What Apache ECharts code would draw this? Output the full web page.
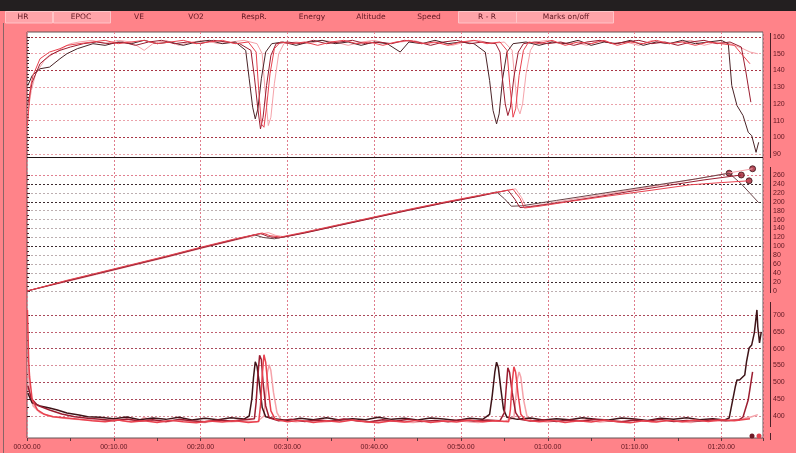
<!DOCTYPE html>
<html>
<head>
<meta charset="utf-8">
<title>HR / EPOC / R-R</title>
<script src="https://cdn.jsdelivr.net/npm/echarts/dist/echarts.min.js"></script>
<style>
  html, body { margin: 0; padding: 0; background: #ff8389; }
  #main { width: 796px; height: 453px; }
</style>
</head>
<body>
<div id="main"></div>
<script>
// tab captions and time labels
const tabNames = ['HR', 'EPOC', 'VE', 'VO2', 'RespR.', 'Energy', 'Altitude', 'Speed', 'R - R', 'Marks on/off'];
const timeLabels = ['00:00.00', '00:10.00', '00:20.00', '00:30.00', '00:40.00', '00:50.00', '01:00.00', '01:10.00', '01:20.00'];

// heart rate, [minute, bpm], four sessions
const hr1 = [[0.1,131],[0.6,137],[1.5,141],[2.6,142],[3.8,147],[4.6,150],[5.8,153],[7.6,156],[9,155],[10.5,157],[12,156],[13.5,158],[15,156],[16.5,157],[18,155],[19.5,157],[21,158],[22.5,156],[24,157],[25.2,152],[25.6,135],[26,118],[26.3,111],[26.6,117],[27,135],[27.5,151],[28.2,156],[29.5,157],[31,155],[32.5,157],[34,158],[35.5,156],[37,157],[38.5,155],[40,157],[41.5,156],[43,151],[44,157],[45.5,156],[47,158],[48.5,156],[50,157],[51.5,156],[52.8,151],[53.3,134],[53.7,116],[54.1,108],[54.4,114],[54.8,135],[55.3,151],[56,156],[57.5,157],[59,155],[60.5,157],[62,156],[63.5,158],[65,155],[66.5,157],[68,156],[69.5,158],[71,155],[72.5,157],[74,156],[75.5,158],[77,156],[78.5,157],[80,158],[80.8,156],[81.2,131],[81.8,119],[82.5,113],[83.1,103],[83.5,101],[84,91],[84.3,97]];
const hr2 = [[0.1,120],[0.6,133],[1.5,144],[2.6,149],[3.8,152],[5,154],[6.5,156],[8,157],[9.5,156],[11,157],[12.5,155],[14,157],[15.5,158],[17,156],[18.5,157],[20,156],[21.5,158],[23,157],[24.5,156],[25.8,152],[26.2,136],[26.6,117],[26.9,105],[27.2,112],[27.6,131],[28.1,149],[28.7,156],[30,157],[31.5,156],[33,158],[34.5,156],[36,157],[37.5,158],[39,156],[40.5,157],[42,156],[43.5,158],[45,157],[46.5,155],[48,157],[49.5,158],[51,156],[52.5,157],[54,156],[54.5,151],[54.8,134],[55.1,120],[55.4,113],[55.7,118],[56.1,136],[56.6,151],[57.2,156],[58.5,157],[60,156],[61.5,157],[63,155],[64.5,157],[66,158],[67.5,156],[69,157],[70.5,158],[72,156],[73.5,157],[75,155],[76.5,157],[78,158],[79.5,156],[81,157],[82.3,154],[82.8,140],[83.4,121]];
const hr3 = [[0.05,107],[0.4,130],[0.7,137],[1.5,147],[2.6,151],[3.8,153],[4.6,155],[6,156],[7.5,157],[9,158],[10.5,156],[12,157],[13.5,158],[15,156],[16.5,157],[18,158],[19.5,156],[21,157],[22.5,158],[24,156],[25.5,157],[26.4,151],[26.7,128],[27,108],[27.3,106],[27.6,118],[28,138],[28.5,153],[29.2,157],[30.5,156],[32,157],[33.5,155],[35,157],[36.5,158],[38,156],[39.5,157],[41,155],[42.5,157],[44,158],[45.5,156],[47,157],[48.5,155],[50,157],[51.5,158],[53,156],[54.5,157],[55.3,152],[55.6,133],[56,112],[56.3,117],[56.7,137],[57.2,152],[57.8,157],[59,156],[60.5,158],[62,155],[63.5,157],[65,156],[66.5,158],[68,155],[69.5,157],[71,156],[72.5,158],[74,156],[75.5,157],[77,155],[78.5,157],[80,156],[81.5,155],[82.3,150],[83.3,144]];
const hr4 = [[0.1,115],[0.5,128],[1,138],[2,146],[3,150],[4,153],[5,156],[6,157],[7.5,158],[9,156],[10.5,158],[12,157],[13.5,152],[14.5,156],[16,158],[17.5,155],[19,157],[20.5,158],[22,156],[23.5,157],[25,158],[26.5,156],[27.1,150],[27.4,130],[27.8,107],[28.1,112],[28.5,132],[29,150],[29.6,156],[31,157],[32.5,156],[34,158],[35.5,157],[37,155],[38.5,157],[40,158],[41.5,156],[43,157],[44.5,158],[46,156],[47.5,157],[49,155],[50.5,157],[52,158],[53.5,156],[55,157],[55.9,152],[56.2,135],[56.5,118],[56.8,114],[57.1,120],[57.5,138],[58,152],[58.6,157],[60,158],[61.5,156],[63,157],[64.5,155],[66,158],[67.5,156],[69,157],[70.5,155],[72,158],[73.5,156],[75,157],[76.5,158],[78,155],[79.5,157],[81,156],[82.5,153],[83.3,151],[84.2,150]];

// EPOC, [minute, ml/kg]
const ep1 = [[0,0],[4.6,23],[8,39],[12,58],[16,77],[20,97],[24,116],[26.2,126],[27.2,120],[28.5,117],[32,131],[36,148],[40,165],[44,182],[48,198],[52,213],[54.1,222],[55,207],[55.8,190],[57,191],[61,203],[65,215],[69,227],[73,239],[77,251],[80.9,264],[82.3,240],[84.3,198]];
const ep2 = [[0,0],[4.6,22],[8,38],[12,57],[16,76],[20,96],[24,115],[26.9,129],[27.8,122],[29,119],[32,130],[36,147],[40,164],[44,181],[48,197],[52,212],[55.4,226],[56.2,206],[56.8,187],[58,189],[62,200],[66,212],[70,225],[74,237],[78,249],[82.3,260]];
const ep3 = [[0,0],[4.6,24],[8,40],[12,59],[16,78],[20,98],[24,117],[27.1,130],[28,124],[29.2,121],[32,132],[36,149],[40,166],[44,183],[48,199],[52,214],[56,228],[56.8,208],[57.3,186],[59,190],[63,202],[67,213],[72,226],[76.4,238],[80,243],[83.2,247]];
const ep4 = [[0,0],[4.6,21],[8,37],[12,56],[16,75],[20,95],[24,114],[27.8,131],[28.6,125],[29.8,121],[32,130],[36,147],[40,164],[44,181],[48,197],[52,213],[56.3,229],[57,209],[57.5,189],[59,193],[63,206],[67,218],[71,231],[75,244],[79,258],[83.6,274]];
const epocPeaks = [[80.9,264],[82.3,260],[83.2,247],[83.6,274]];

// R-R interval, [minute, ms]
const rr1 = [[0.1,468],[0.6,439],[1.5,430],[2.6,424],[3.5,418],[4.6,409],[6,403],[7,398],[8.4,396],[10,392],[11.5,397],[13,389],[14.5,394],[16,390],[17.5,396],[19,388],[20.5,393],[22,389],[23.5,395],[25,391],[25.6,400],[25.9,450],[26.1,515],[26.3,561],[26.5,548],[26.8,490],[27.1,425],[27.5,398],[28.5,392],[30,387],[31.5,393],[33,389],[34.5,395],[36,388],[37.5,392],[39,389],[40.5,396],[42,390],[43.5,393],[45,388],[46.5,394],[48,391],[49.5,387],[51,393],[52.5,390],[53.3,405],[53.6,460],[53.9,530],[54.1,560],[54.3,545],[54.6,480],[54.9,420],[55.3,396],[56.5,390],[58,394],[59.5,388],[61,392],[62.5,389],[64,395],[65.5,390],[67,388],[68.5,394],[70,391],[71.5,387],[73,393],[74.5,390],[76,395],[77.5,389],[79,392],[80.4,388],[80.9,394],[81.6,486],[81.8,507],[82.1,507],[82.7,522],[82.9,561],[83.2,602],[83.5,611],[83.8,647],[84.1,715],[84.2,665],[84.4,617],[84.6,650]];
const rr2 = [[0.1,490],[0.5,452],[1.2,432],[2.6,418],[4,406],[5.5,398],[7,393],[8.5,390],[10,386],[11.5,391],[13,385],[14.5,389],[16,384],[17.5,390],[19,386],[20.5,383],[22,388],[23.5,385],[25,389],[26.2,392],[26.4,440],[26.6,520],[26.8,580],[27,568],[27.2,500],[27.5,430],[27.9,395],[29,386],[30.5,390],[32,384],[33.5,388],[35,385],[36.5,391],[38,386],[39.5,383],[41,389],[42.5,385],[44,390],[45.5,384],[47,387],[48.5,383],[50,389],[51.5,385],[53,388],[54.5,386],[55,410],[55.2,480],[55.4,543],[55.6,530],[55.9,470],[56.3,410],[56.8,390],[58,385],[59.5,389],[61,384],[62.5,388],[64,385],[65.5,390],[67,386],[68.5,383],[70,388],[71.5,385],[73,390],[74.5,384],[76,387],[77.5,385],[79,389],[80.5,386],[82,388],[82.5,397],[83.1,448],[83.6,531]];
const rr3 = [[0.05,715],[0.2,560],[0.3,516],[0.6,448],[1.2,418],[2,405],[3,398],[4.6,394],[6,390],[7.5,386],[9,383],[10.5,388],[12,382],[13.5,386],[15,381],[16.5,387],[18,383],[19.5,380],[21,385],[22.5,382],[24,386],[25.5,381],[26.7,384],[26.9,430],[27.1,520],[27.3,582],[27.5,560],[27.8,480],[28.1,415],[28.6,390],[30,383],[31.5,387],[33,381],[34.5,386],[36,382],[37.5,388],[39,383],[40.5,380],[42,386],[43.5,382],[45,387],[46.5,381],[48,385],[49.5,382],[51,388],[52.5,383],[54,386],[55.5,383],[55.7,420],[55.9,500],[56.1,546],[56.3,530],[56.6,460],[56.9,405],[57.4,388],[59,383],[60.5,387],[62,381],[63.5,386],[65,382],[66.5,388],[68,383],[69.5,380],[71,386],[72.5,382],[74,387],[75.5,383],[77,388],[78.5,384],[80,389],[81.5,386],[83.3,392]];
const rr4 = [[0.1,560],[0.3,470],[0.7,430],[1.5,410],[2.5,400],[4,394],[5.5,390],[7,388],[8.5,385],[10,390],[11.5,384],[13,388],[13.5,396],[14.5,386],[16,382],[17.5,388],[19,384],[20.5,381],[22,387],[23.5,383],[25,385],[26.5,383],[27.3,400],[27.5,460],[27.7,530],[27.9,552],[28.1,535],[28.4,470],[28.8,410],[29.3,388],[31,383],[32.5,387],[34,382],[35.5,385],[37,389],[38.5,384],[40,382],[41.5,386],[43,383],[44.5,381],[46,386],[47.5,384],[49,389],[50.5,384],[52,381],[53.5,386],[55,384],[56.1,395],[56.3,450],[56.5,510],[56.7,531],[56.9,515],[57.2,450],[57.6,400],[58.2,386],[60,382],[61.5,387],[63,384],[64.5,389],[66,382],[67.5,386],[69,384],[70.5,389],[72,382],[73.5,386],[75,384],[76.5,381],[78,388],[79.5,385],[81,387],[82.5,392],[83.5,398],[84.2,404]];

const C1 = '#4a2428', C2 = '#9b1d30', C3 = '#e9424f', C4 = '#f5a3aa';
const FONT = '"Liberation Sans", Arial, sans-serif';
const TAB_FONT = '7.5px "DejaVu Sans", sans-serif';
const TXT = '#5e1620';
const X_MAX = 84.8;

let chart = echarts.init(document.getElementById('main'));

function line(data, color, idx, width) {
  return {
    type: 'line', data: data, xAxisIndex: idx, yAxisIndex: idx,
    symbol: 'none', clip: false, silent: true, animation: false,
    lineStyle: { color: color, width: width || 1 }, itemStyle: { color: color }
  };
}

function hiddenX(idx) {
  return { gridIndex: idx, type: 'value', min: 0, max: X_MAX, show: false };
}

function rightY(idx, min, max, step, colors, minorSplit) {
  return {
    gridIndex: idx, type: 'value', position: 'right', offset: 7,
    min: min, max: max, interval: step,
    axisLine: { show: false },
    axisTick: { show: true, inside: false, length: 3, lineStyle: { color: '#4a2026' } },
    minorTick: { show: true, splitNumber: minorSplit, length: 2, lineStyle: { color: '#4a2026' } },
    axisLabel: { color: TXT, fontSize: 7, fontFamily: FONT, margin: 3 },
    splitLine: { show: true, lineStyle: { color: colors, type: [2, 2], width: 1 } }
  };
}

const pinkG = '#eaa2aa', redG = '#a83444';
const grayG = '#bcaeb0', blackG = '#3a2a2e';
const rrA = '#d88e9a', rrB = '#a8485a';

// tab strip
let graphics = [
  { type: 'rect', shape: { x: 0, y: 0, width: 796, height: 11 }, style: { fill: '#231f20' } },
  { type: 'line', shape: { x1: 3.5, y1: 23, x2: 3.5, y2: 453 }, style: { stroke: '#8a6466', lineWidth: 1 } }
];
const tabBoxes = [[5, 47], [53, 57], [458, 58], [516, 97]];
tabBoxes.forEach(function (b) {
  graphics.push({ type: 'rect', shape: { x: b[0] + 0.5, y: 11.5, width: b[1], height: 11.5 },
    style: { fill: '#ffa4a9', stroke: '#ffc4c7', lineWidth: 1 } });
});
const tabX = [23, 81, 139, 196, 254, 312, 371, 429, 487, 566];
tabNames.forEach(function (t, i) {
  graphics.push({ type: 'text', x: tabX[i], y: 17.5,
    style: { text: t, fill: TXT, font: TAB_FONT, align: 'center', verticalAlign: 'middle',
      textAlign: 'center', textVerticalAlign: 'middle' } });
});
// separator between HR and EPOC panels
graphics.push({ type: 'line', z: 50, shape: { x1: 27, y1: 157.5, x2: 763, y2: 157.5 }, style: { stroke: '#1e1214', lineWidth: 1 } });
// right axis spines
[[33, 158], [167, 293], [302, 427], [433, 440]].forEach(function (s) {
  graphics.push({ type: 'line', z: 50, shape: { x1: 770.5, y1: s[0], x2: 770.5, y2: s[1] }, style: { stroke: '#4a2026', lineWidth: 1 } });
});
// marks in the corner
graphics.push({ type: 'circle', z: 50, shape: { cx: 752, cy: 436, r: 2.5 }, style: { fill: '#6e1a26' } });
graphics.push({ type: 'circle', z: 50, shape: { cx: 759, cy: 436, r: 2.5 }, style: { fill: '#e2404e' } });

let option = {
  backgroundColor: '#ff8389',
  animation: false,
  graphic: { elements: graphics },
  grid: [
    { left: 27, width: 736, top: 32, height: 406, show: true, backgroundColor: '#ffffff', borderColor: '#625456', borderWidth: 1, outerBoundsMode: 'none' },
    { left: 27, width: 736, top: 37, height: 117, outerBoundsMode: 'none' },
    { left: 27, width: 736, top: 175, height: 116, outerBoundsMode: 'none' },
    { left: 27, width: 736, top: 315, height: 101, outerBoundsMode: 'none' }
  ],
  xAxis: [
    {
      gridIndex: 0, type: 'value', min: 0, max: X_MAX, interval: 10,
      axisLine: { show: false },
      axisTick: { show: true, length: 3, lineStyle: { color: '#5a3a3e' } },
      minorTick: { show: true, splitNumber: 2, length: 3, lineStyle: { color: '#5a3a3e' } },
      axisLabel: {
        color: TXT, fontSize: 7, fontFamily: FONT, margin: 6,
        formatter: function (v) {
          if (Math.abs(v % 10) > 0.001) return '';
          return timeLabels[Math.round(v / 10)] || '';
        }
      },
      splitLine: { show: true, lineStyle: { color: '#e07c8c', type: [2, 2], width: 1 } }
    },
    hiddenX(1), hiddenX(2), hiddenX(3)
  ],
  yAxis: [
    { gridIndex: 0, type: 'value', min: 0, max: 1, show: false },
    rightY(1, 90, 160, 10, [pinkG, redG, pinkG, pinkG, pinkG, redG, pinkG, redG], 5),
    rightY(2, 0, 260, 20, [grayG, blackG, grayG, grayG, grayG, blackG, grayG, grayG, grayG, grayG, blackG, grayG, blackG, '#e08090'], 2),
    rightY(3, 400, 700, 50, [rrA, rrB, rrB, rrA, rrB, '#c06070', rrB], 2)
  ],
  series: [
    line(hr4, C4, 1), line(hr1, C1, 1), line(hr2, C2, 1), line(hr3, C3, 1),
    line(ep4, C4, 2), line(ep1, '#6a4448', 2), line(ep2, C2, 2), line(ep3, C3, 2),
    {
      type: 'scatter', data: epocPeaks, xAxisIndex: 2, yAxisIndex: 2, clip: false, silent: true,
      symbolSize: 6, itemStyle: { color: '#a01e30', borderColor: '#3a1015', borderWidth: 1 }
    },
    line(rr4, C4, 3, 1.5), line(rr1, '#3e1418', 3, 1.5), line(rr2, C2, 3, 1.5), line(rr3, C3, 3, 1.5)
  ]
};

chart.setOption(option);
</script>
</body>
</html>
